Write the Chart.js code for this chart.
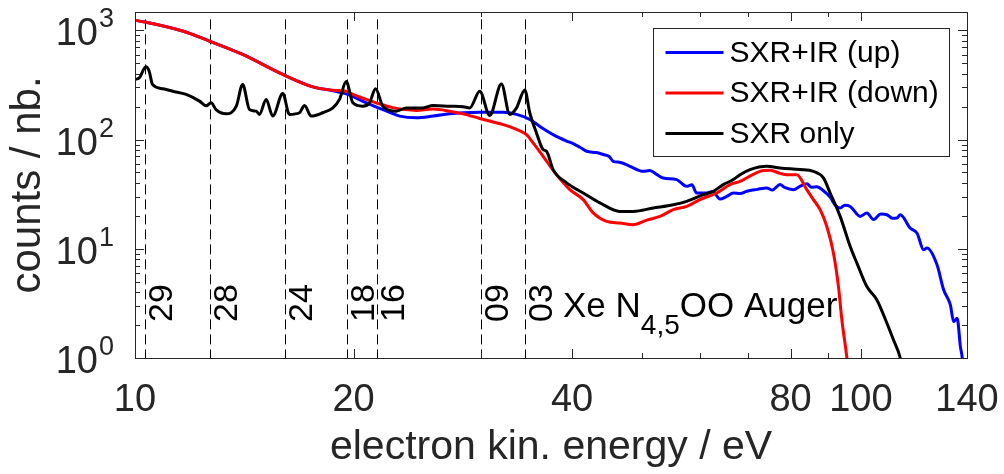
<!DOCTYPE html>
<html>
<head>
<meta charset="utf-8">
<script src="https://cdn.jsdelivr.net/npm/chart.js@4.4.0/dist/chart.umd.min.js"></script>
<style>
  body { margin: 0; background: #fff; }
</style>
</head>
<body>
<canvas id="spectrum" width="1004" height="474"></canvas>
<script>
// SXR+IR (up)
var upEnergy = [10.0, 10.32, 11.63, 12.66, 14.07, 15.98, 17.58, 18.73, 19.54, 20.83, 21.95, 23.15, 24.41, 25.73,
  27.13, 28.31, 29.85, 32.14, 33.54, 34.98, 36.12, 37.67, 39.31, 40.14, 41.01, 41.89, 43.2, 44.16, 45.0, 45.58,
  46.5, 48.06, 50.13, 51.2, 52.3, 53.42, 55.74, 57.54, 58.5, 59.39, 61.31, 62.5, 63.96, 65.34, 66.72, 68.2,
  69.62, 72.0, 74.19, 75.5, 77.38, 78.5, 80.72, 82.5, 84.22, 85.5, 86.94, 88.79, 90.7, 92.2, 93.63, 95.0,
  96.66, 99.78, 101.9, 104.1, 106.5, 108.6, 110.5, 112.1, 113.3, 116.9, 119.5, 122.0, 123.3, 127.3, 130.0,
  132.8, 134.2, 135.7, 137.1, 137.9, 138.6];
var upCounts = [1235, 1192, 985, 798, 602, 395, 304, 280, 262, 217, 188, 164, 158, 164,
  172, 176, 178, 178, 170, 153, 132, 111, 97, 91.9, 85, 78.1, 76, 72.9, 70, 63.2,
  62, 56.9, 51.2, 52, 48, 44.5, 43.0, 37.3, 38.5, 32.4, 32.4, 33.5, 28.5, 30.2, 32.4, 32,
  33.6, 35, 36.1, 34.5, 38.7, 36.5, 34.8, 37.5, 39.4, 36.5, 37, 34, 29.7, 25, 23.6, 25,
  24.4, 19.8, 21.3, 18.5, 20.8, 20.5, 19.0, 19.1, 20.5, 15.5, 13.9, 9.79, 10.15, 7.13, 4.21,
  3.06, 2.15, 2.31, 1.27, 1.0, 0.6];

// SXR+IR (down)
var downEnergy = [10.0, 10.32, 11.63, 12.66, 14.07, 15.98, 17.58, 18.73, 19.54, 19.96, 20.83, 21.49, 22.66, 24.41,
  25.73, 27.13, 28.31, 29.85, 32.14, 33.54, 34.62, 35.35, 36.49, 38.07, 39.72, 41.44, 42.78, 44.64, 46.56,
  48.57, 50.68, 52.87, 55.15, 57.54, 60.02, 63.29, 66.02, 68.15, 72.62, 74.97, 77.4, 79.04, 81.59, 84.22,
  86.0, 87.86, 89.75, 91.65, 93.12, 94.14, 95.65, 96.4];
var downCounts = [1235, 1192, 985, 798, 602, 395, 304, 283, 277, 259, 233, 217, 196, 185,
  190, 182, 172, 156, 137, 124, 111, 93.3, 70.3, 47.7, 34.8, 28.2, 21.3, 17.8, 17.2,
  16.6, 18.3, 19.8, 22.8, 24.4, 28.2, 32.4, 38.7, 41.4, 51.2, 52.3, 49, 47.7, 47.7, 34.8,
  28.2, 22.8, 16.0, 9.13, 4.51, 2.23, 1.0, 0.6];

// SXR only
var sxrEnergy = [10.0, 10.14, 10.35, 10.46, 10.57, 10.92, 11.27, 11.76, 12.27, 12.53, 12.73, 12.93, 13.35, 13.79,
  14.07, 14.38, 14.69, 14.84, 15.16, 15.48, 15.98, 16.32, 16.85, 17.12, 17.49, 18.14, 18.73, 19.13, 19.54,
  19.96, 20.6, 21.04, 21.45, 21.95, 22.91, 23.65, 24.93, 25.73, 27.13, 28.31, 28.92, 29.85, 30.81, 31.97,
  32.83, 33.54, 34.43, 34.98, 35.73, 36.49, 36.89, 37.67, 39.31, 41.44, 43.7, 46.56, 48.57, 51.76, 55.15,
  57.54, 60.65, 62.61, 64.63, 66.72, 68.15, 70.35, 74.19, 77.38, 82.45, 86.0, 88.79, 90.7, 93.63, 96.66,
  98.74, 101.9, 105.2, 108.6, 110.9, 113.3, 114.0];
var sxrCounts = [355, 368, 465, 423, 320, 292, 277, 259, 225, 204, 217, 188, 172, 202,
  320, 188, 182, 170, 233, 164, 264, 170, 176, 205, 164, 176, 195, 233, 340,
  217, 202, 217, 292, 202, 182, 195, 195, 205, 202, 200, 195, 277, 166, 323,
  170, 195, 285, 176, 115, 81, 78.1, 53.1, 40.1, 32.4, 26.3, 22.0, 22.0, 23.6, 25.3,
  27.2, 31.3, 33.6, 38.7, 43.0, 47.7, 53.1, 56.9, 55.0, 53.1, 51.2, 44.5, 32.4, 19.8, 10.5,
  7.39, 4.51, 3.40, 2.08, 1.46, 1.0, 0.8];

// dashed markers
var markEnergy = [10.31, 12.67, 16.07, 19.58, 21.52, 29.95, 34.41];
var markLabels = ['29', '28', '24', '18', '16', '09', '03'];
var markTop = 1260;

var xTickValues = [10, 20, 30, 40, 50, 60, 70, 80, 90, 100, 140];
var xTickLabels = [10, 20, 40, 80, 100, 140];
var yTickValues = [1, 10, 100, 1000];

var FONT = "'Liberation Sans', Arial, sans-serif";
var AXIS = '#262626';

function pts(xs, ys) {
  return xs.map(function (x, i) { return { x: x, y: ys[i] }; });
}

var framePlugin = {
  id: 'frame',
  beforeDatasetsDraw: function (chart) {
    var ctx = chart.ctx, a = chart.chartArea, xs = chart.scales.x, ys = chart.scales.y;
    var top = ys.getPixelForValue(markTop);
    ctx.save();
    ctx.strokeStyle = '#000';
    ctx.lineWidth = 1;
    ctx.setLineDash([10, 5]);
    markEnergy.forEach(function (e) {
      var px = Math.round(xs.getPixelForValue(e)) + 0.5;
      ctx.beginPath();
      ctx.moveTo(px, top);
      ctx.lineTo(px, a.bottom);
      ctx.stroke();
    });
    ctx.restore();
  },
  afterDatasetsDraw: function (chart) {
    var ctx = chart.ctx, a = chart.chartArea, xs = chart.scales.x, ys = chart.scales.y;
    ctx.save();
    ctx.strokeStyle = AXIS;
    ctx.lineWidth = 1;
    ctx.beginPath();
    // inward x ticks, top and bottom
    xTickValues.forEach(function (v) {
      var px = Math.round(xs.getPixelForValue(v)) + 0.5;
      var len = xTickLabels.indexOf(v) >= 0 ? 9 : 5;
      ctx.moveTo(px, a.bottom); ctx.lineTo(px, a.bottom - len);
      ctx.moveTo(px, a.top); ctx.lineTo(px, a.top + len);
    });
    // inward y ticks, left and right
    for (var d = 1; d <= 1000; d *= 10) {
      for (var m = 1; m < 10; m++) {
        var v = d * m;
        if (v > ys.max) break;
        var py = Math.round(ys.getPixelForValue(v)) + 0.5;
        var len = m === 1 ? 9 : 5;
        ctx.moveTo(a.left, py); ctx.lineTo(a.left + len, py);
        ctx.moveTo(a.right, py); ctx.lineTo(a.right - len, py);
      }
    }
    ctx.stroke();
    ctx.strokeRect(Math.round(a.left) + 0.5, Math.round(a.top) + 0.5,
      Math.round(a.right - a.left), Math.round(a.bottom - a.top));
    ctx.restore();
  },
  afterDraw: function (chart) {
    var ctx = chart.ctx, a = chart.chartArea, xs = chart.scales.x, ys = chart.scales.y;
    ctx.save();
    ctx.fillStyle = AXIS;

    // y tick labels as 10^n
    yTickValues.forEach(function (v) {
      var py = ys.getPixelForValue(v);
      ctx.font = '38px ' + FONT;
      ctx.textAlign = 'right';
      ctx.textBaseline = 'alphabetic';
      ctx.fillText('10', 98, py + 15);
      ctx.font = '27px ' + FONT;
      ctx.textAlign = 'left';
      ctx.fillText(String(Math.round(Math.log10(v))), 99, py - 3);
    });

    // marker labels, rotated
    ctx.fillStyle = '#000';
    ctx.font = '34px ' + FONT;
    ctx.textAlign = 'left';
    ctx.textBaseline = 'alphabetic';
    markEnergy.forEach(function (e, i) {
      var px = xs.getPixelForValue(e);
      ctx.save();
      ctx.translate(px + 27, 322);
      ctx.rotate(-Math.PI / 2);
      ctx.fillText(markLabels[i], 0, 0);
      ctx.restore();
    });

    // Xe N_{4,5}OO Auger
    var tx = 563, ty = 317;
    ctx.font = '35px ' + FONT;
    ctx.fillText('Xe N', tx, ty);
    tx += ctx.measureText('Xe N').width;
    ctx.font = '28px ' + FONT;
    ctx.fillText('4,5', tx, ty + 17);
    tx += ctx.measureText('4,5').width;
    ctx.font = '35px ' + FONT;
    ctx.fillText('OO Auger', tx, ty);

    // legend
    var bx = Math.round(a.right - 18 - 296) + 0.5, by = Math.round(a.top + 16) + 0.5;
    ctx.fillStyle = '#fff';
    ctx.fillRect(bx, by, 296, 128);
    ctx.strokeStyle = AXIS;
    ctx.lineWidth = 1;
    ctx.strokeRect(bx, by, 296, 128);
    ctx.font = '30px ' + FONT;
    ctx.textBaseline = 'middle';
    var items = [chart.data.datasets[0], chart.data.datasets[1], chart.data.datasets[2]];
    items.forEach(function (ds, i) {
      var cy = by + 24 + i * 40.5;
      ctx.strokeStyle = ds.borderColor;
      ctx.lineWidth = 3;
      ctx.beginPath();
      ctx.moveTo(bx + 12, cy);
      ctx.lineTo(bx + 70, cy);
      ctx.stroke();
      ctx.fillStyle = '#000';
      ctx.fillText(ds.label, bx + 76, cy + 1);
    });
    ctx.restore();
  }
};

var lineStyle = { borderWidth: 3, pointRadius: 0, fill: false, cubicInterpolationMode: 'monotone' };

var chart = new Chart(document.getElementById('spectrum').getContext('2d'), {
  type: 'line',
  data: {
    datasets: [
      Object.assign({ label: 'SXR+IR (up)', data: pts(upEnergy, upCounts), borderColor: '#0000ff', order: 3 }, lineStyle),
      Object.assign({ label: 'SXR+IR (down)', data: pts(downEnergy, downCounts), borderColor: '#ff0000', order: 2 }, lineStyle),
      Object.assign({ label: 'SXR only', data: pts(sxrEnergy, sxrCounts), borderColor: '#000000', order: 1 }, lineStyle)
    ]
  },
  options: {
    responsive: false,
    animation: false,
    devicePixelRatio: 1,
    layout: { padding: { top: 12, right: 37, bottom: 0, left: 0 } },
    plugins: { legend: { display: false }, tooltip: { enabled: false } },
    scales: {
      x: {
        type: 'logarithmic',
        min: 10,
        max: 140,
        afterBuildTicks: function (s) { s.ticks = xTickValues.map(function (v) { return { value: v }; }); },
        afterFit: function (s) { s.height = 116; s.paddingLeft = 0; s.paddingRight = 0; },
        grid: { display: false },
        border: { display: false },
        ticks: {
          autoSkip: false,
          maxRotation: 0,
          padding: 12,
          color: AXIS,
          font: { family: FONT, size: 38 },
          callback: function (v) { return xTickLabels.indexOf(v) >= 0 ? String(v) : ''; }
        },
        title: {
          display: true,
          text: 'electron kin. energy / eV',
          color: AXIS,
          font: { family: FONT, size: 41 },
          padding: { top: 0, bottom: 2 }
        }
      },
      y: {
        type: 'logarithmic',
        min: 1,
        max: 1472,
        afterBuildTicks: function (s) { s.ticks = yTickValues.map(function (v) { return { value: v }; }); },
        afterFit: function (s) { s.width = 135; s.paddingTop = 0; s.paddingBottom = 0; },
        grid: { display: false },
        border: { display: false },
        ticks: { display: false },
        title: {
          display: true,
          text: 'counts / nb.',
          color: AXIS,
          font: { family: FONT, size: 42 },
          padding: { top: 3, bottom: 0 }
        }
      }
    }
  },
  plugins: [framePlugin]
});
</script>
</body>
</html>
